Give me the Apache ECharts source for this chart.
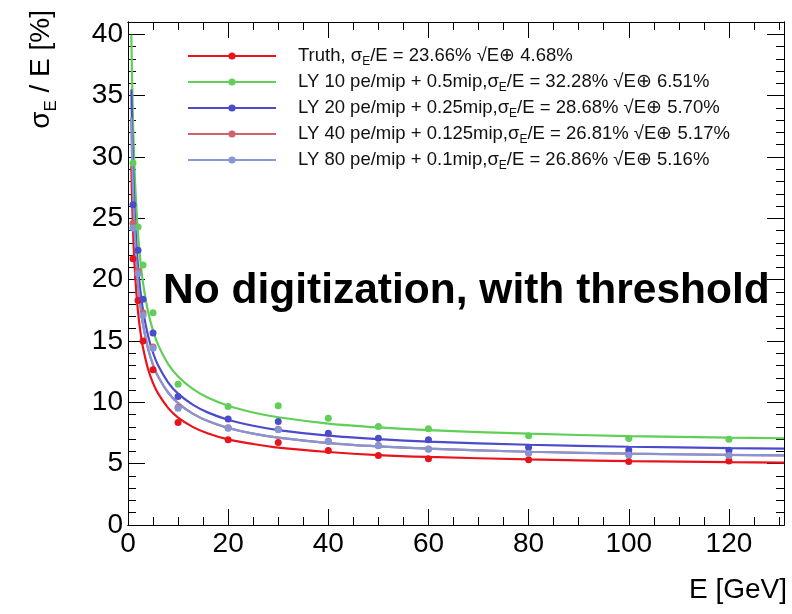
<!DOCTYPE html>
<html><head><meta charset="utf-8">
<script src="https://cdn.jsdelivr.net/npm/echarts@6/dist/echarts.min.js"></script>
<style>html,body{margin:0;padding:0;background:#fff}#c{width:792px;height:614px}</style>
</head><body><div id="c"></div>
<script>
// Measured points (E in GeV, sigma_E/E in %)
const energies = [1, 2, 3, 5, 10, 20, 30, 40, 50, 60, 80, 100, 120];
const truthPts = [21.7, 18.3, 15.0, 12.65, 8.35, 6.94, 6.72, 6.07, 5.66, 5.39, 5.31, 5.17, 5.22];
const ly10Pts  = [29.5, 24.3, 21.2, 17.3, 11.48, 9.66, 9.71, 8.71, 8.03, 7.84, 7.27, 7.05, 6.99];
const ly20Pts  = [26.1, 22.4, 18.4, 15.65, 10.48, 8.65, 8.44, 7.48, 7.07, 6.94, 6.34, 6.12, 6.1];
const ly40Pts  = [24.6, 20.7, 17.3, 14.5, 9.6, 7.93, 7.8, 6.84, 6.48, 6.2, 5.88, 5.74, 5.69];
const ly80Pts  = [24.2, 20.5, 17.1, 14.4, 9.52, 7.89, 7.76, 6.8, 6.45, 6.18, 5.85, 5.71, 5.66];

// Fit curves
const curveE     = [0.67, 0.75, 0.85, 1, 1.2, 1.5, 2, 2.5, 3, 4, 5, 6, 8, 10, 13, 16, 20, 25, 30, 40, 50, 60, 80, 100, 120, 131];
const truthCurve = [29.28, 27.72, 26.09, 24.12, 22.10, 19.88, 17.37, 15.68, 14.44, 12.72, 11.57, 10.73, 9.55, 8.75, 7.98, 7.46, 6.98, 6.6, 6.3, 5.95, 5.7, 5.55, 5.35, 5.21, 5.12, 5.09];
const ly10Curve  = [39.97, 37.84, 35.61, 32.93, 30.18, 27.15, 23.74, 21.43, 19.74, 17.40, 15.84, 14.70, 13.14, 12.11, 11.07, 10.37, 9.72, 9.17, 8.78, 8.27, 7.95, 7.73, 7.44, 7.25, 7.12, 7.07];
const ly20Curve  = [35.50, 33.60, 31.62, 29.24, 26.79, 24.10, 21.07, 19.01, 17.51, 15.43, 14.04, 13.02, 11.63, 10.71, 9.79, 9.16, 8.58, 8.09, 7.74, 7.28, 7.00, 6.80, 6.54, 6.38, 6.27, 6.23];
const ly40Curve  = [33.16, 31.39, 29.54, 27.30, 25.01, 22.49, 19.65, 17.73, 16.32, 14.37, 13.06, 12.10, 10.80, 9.93, 9.06, 8.46, 7.91, 7.45, 7.12, 6.68, 6.41, 6.22, 5.97, 5.82, 5.72, 5.67];
const ly80Curve  = [33.22, 31.44, 29.59, 27.35, 25.06, 22.53, 19.68, 17.75, 16.34, 14.39, 13.07, 12.12, 10.81, 9.94, 9.06, 8.47, 7.92, 7.45, 7.12, 6.68, 6.41, 6.22, 5.97, 5.82, 5.71, 5.67];

const names = ['Truth', 'LY10', 'LY20', 'LY40', 'LY80'];
const legendText = {
  Truth: ['Truth, \u03C3', '/E = 23.66% \u221AE\u2295 4.68%'],
  LY10: ['LY 10 pe/mip + 0.5mip,\u03C3', '/E = 32.28% \u221AE\u2295 6.51%'],
  LY20: ['LY 20 pe/mip + 0.25mip,\u03C3', '/E = 28.68% \u221AE\u2295 5.70%'],
  LY40: ['LY 40 pe/mip + 0.125mip,\u03C3', '/E = 26.81% \u221AE\u2295 5.17%'],
  LY80: ['LY 80 pe/mip + 0.1mip,\u03C3', '/E = 26.86% \u221AE\u2295 5.16%']
};
const colors = {Truth: '#e8141c', LY10: '#5fcf57', LY20: '#4b4bcb', LY40: '#d0606a', LY80: '#8496d4'};
const pts = {Truth: truthPts, LY10: ly10Pts, LY20: ly20Pts, LY40: ly40Pts, LY80: ly80Pts};
const curves = {Truth: truthCurve, LY10: ly10Curve, LY20: ly20Curve, LY40: ly40Curve, LY80: ly80Curve};

const FONT = 'Liberation Sans';
const drawOrder = ['LY40', 'Truth', 'LY10', 'LY20', 'LY80'];
const series = [];
names.forEach(n => {
  series.push({
    type: 'line', name: n, data: curveE.map((e, i) => [e, curves[n][i]]),
    smooth: 0.3, symbol: 'circle', symbolSize: 7, showSymbol: false,
    lineStyle: {color: colors[n], width: 2.2}, itemStyle: {color: colors[n]},
    z: 2 + drawOrder.indexOf(n), silent: true, animation: false, clip: true
  });
});
names.forEach(n => {
  series.push({
    type: 'scatter', name: n, data: energies.map((e, i) => [e, pts[n][i]]),
    symbol: 'circle', symbolSize: 7, itemStyle: {color: colors[n], opacity: 1},
    z: 10 + drawOrder.indexOf(n), silent: true, animation: false
  });
});

function xa(pos, interval, len, labels) {
  return {type: 'value', position: pos, min: 0, max: 131, interval: interval,
    axisLine: {show: true, onZero: false, lineStyle: {color: '#000', width: 1}},
    axisTick: {show: true, inside: true, length: len, lineStyle: {color: '#000', width: 1}},
    axisLabel: {show: labels, fontFamily: FONT, fontSize: 28, color: '#000', margin: 5, showMaxLabel: false},
    splitLine: {show: false}};
}
function ya(pos, interval, len, labels) {
  return {type: 'value', position: pos, min: 0, max: 41, interval: interval,
    axisLine: {show: true, onZero: false, lineStyle: {color: '#000', width: 1}},
    axisTick: {show: true, inside: true, length: len, lineStyle: {color: '#000', width: 1}},
    axisLabel: {show: labels, fontFamily: FONT, fontSize: 28, color: '#000', margin: 5, showMaxLabel: false},
    splitLine: {show: false}};
}

const chart = echarts.init(document.getElementById('c'));
chart.setOption({
  animation: false,
  backgroundColor: '#fff',
  grid: {left: 128, right: 8, top: 22, bottom: 89, containLabel: false},
  xAxis: [xa('bottom', 20, 16, true), xa('bottom', 5, 8, false), xa('top', 20, 16, false), xa('top', 5, 8, false)],
  yAxis: [ya('left', 5, 17, true), ya('left', 1, 8, false), ya('right', 5, 17, false), ya('right', 1, 8, false)],
  legend: {
    data: names, orient: 'vertical', left: 187, top: 46, padding: 0,
    itemWidth: 88, itemHeight: 9, itemGap: 4, selectedMode: false,
    formatter: n => '{t|' + legendText[n][0] + '}{s|E}{t|' + legendText[n][1] + '}',
    textStyle: {
      fontFamily: FONT, color: '#111', padding: [0, 0, 0, 17],
      rich: {
        t: {fontFamily: FONT, fontSize: 18.5, color: '#111', lineHeight: 20, verticalAlign: 'top'},
        s: {fontFamily: FONT, fontSize: 12, color: '#111', lineHeight: 12, padding: [10, 0, 0, 0], verticalAlign: 'top'}
      }
    }
  },
  graphic: [
    {type: 'text', left: 163, top: 270, silent: true,
      style: {text: 'No digitization, with threshold', fontFamily: FONT, fontSize: 42.5, fontWeight: 'bold', fill: '#000'}},
    {type: 'text', right: 5, top: 576, silent: true,
      style: {text: 'E [GeV]', fontFamily: FONT, fontSize: 28, fill: '#000'}},
    {type: 'text', x: 42, y: 10, rotation: Math.PI / 2, silent: true,
      style: {text: '{a|\u03C3}{s|E}{a| / E [%]}', align: 'right', verticalAlign: 'middle',
        rich: {
          a: {fontFamily: FONT, fontSize: 28, fill: '#000', lineHeight: 30, verticalAlign: 'top'},
          s: {fontFamily: FONT, fontSize: 17, fill: '#000', lineHeight: 17, padding: [16, 0, 0, 0], verticalAlign: 'top'}
        }}}
  ],
  series: series
});
</script></body></html>
